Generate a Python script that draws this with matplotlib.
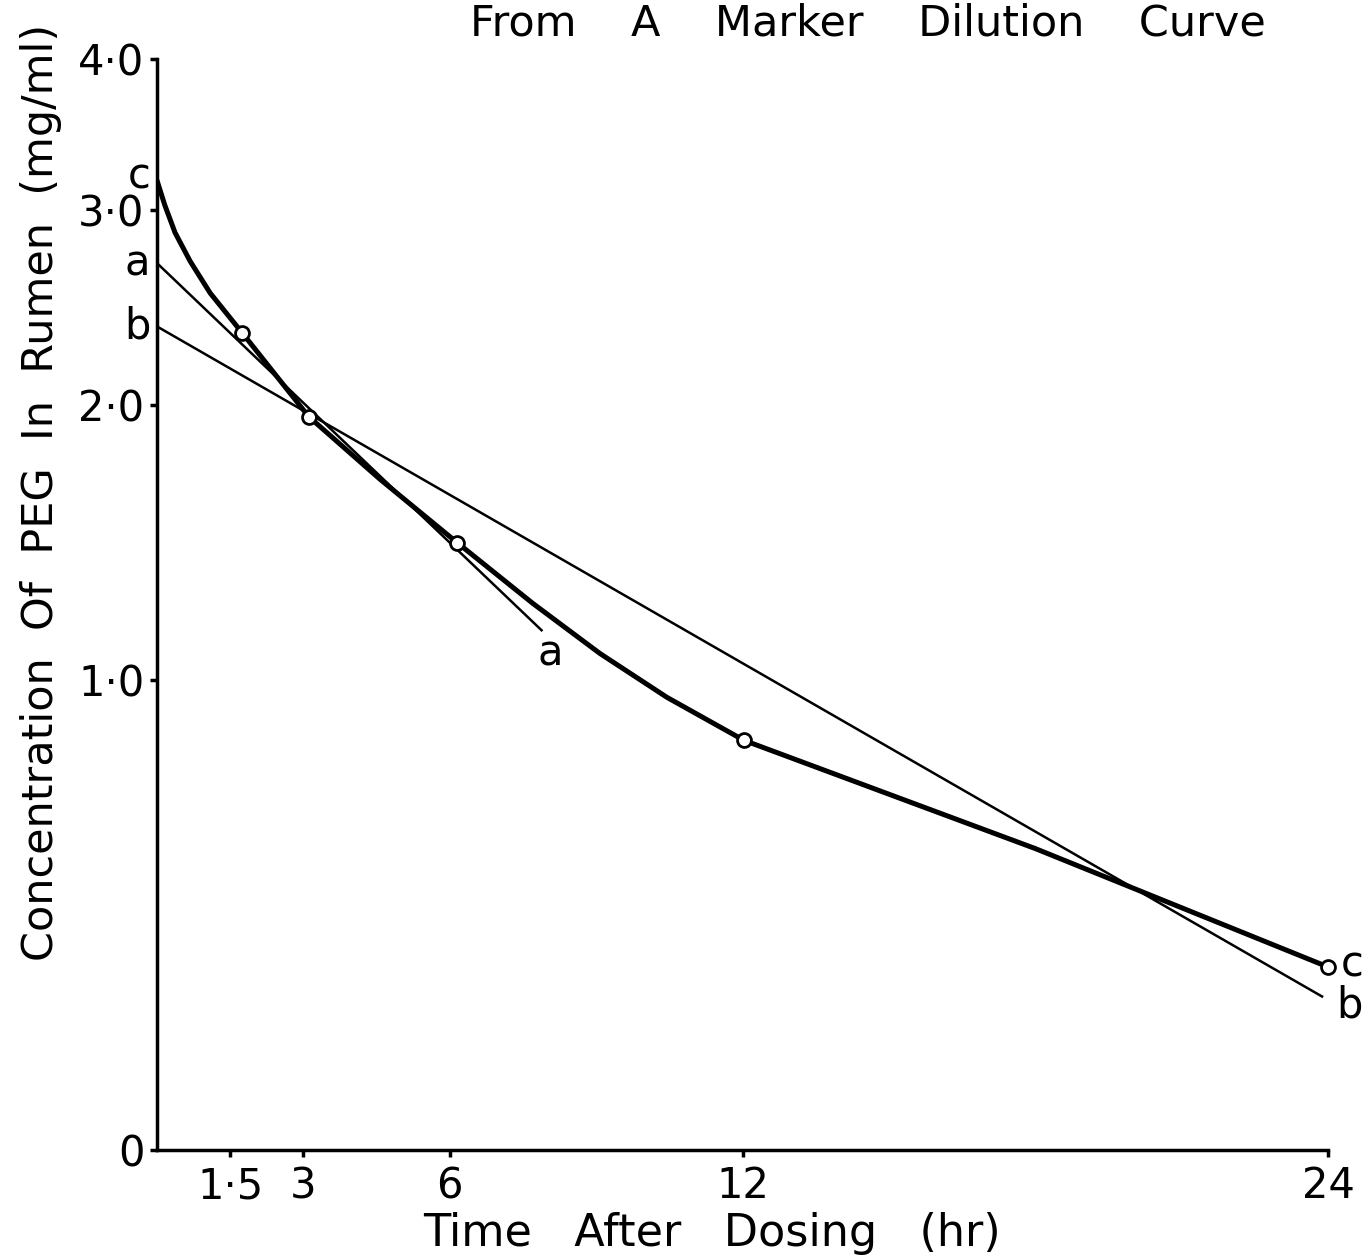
import numpy as np
import matplotlib
matplotlib.use("Agg")
import matplotlib.pyplot as plt

# curve c (smooth freehand curve through the observations)
c_time = [0.0, 0.16, 0.37, 0.68, 1.09, 1.74, 3.11, 4.57, 6.15, 7.7, 9.08, 10.45, 12.03, 18.0, 24.0]
c_conc = [3.18, 3.03, 2.87, 2.71, 2.54, 2.34, 1.95, 1.69, 1.45, 1.24, 1.08, 0.95, 0.83, 0.56, 0.31]

# observed points (open circles)
obs_time = [1.74, 3.11, 6.15, 12.03, 24.0]
obs_conc = [2.34, 1.95, 1.45, 0.83, 0.31]

# fitted straight lines a and b
a_time = [0.0, 7.9]
a_conc = [2.70, 1.15]
b_time = [0.0, 23.9]
b_conc = [2.37, 0.253]

x_ticks = [1.5, 3, 6, 12, 24]
x_ticklabels = ["1·5", "3", "6", "12", "24"]
y_ticks = [0, 1, 2, 3, 4]
y_ticklabels = ["0", "1·0", "2·0", "3·0", "4·0"]

plt.rcParams["font.family"] = "DejaVu Sans"

fig = plt.figure(figsize=(13.63, 12.57), dpi=100)
W, H = 1363, 1257
ax = fig.add_axes([157 / W, (H - 1150) / H, (1328 - 157) / W, 1091 / H])

# vertical scale of the original is log(1 + y)
ax.set_yscale("function", functions=(np.log1p, np.expm1))
ax.set_xlim(0, 24)
ax.set_ylim(0, 4)

ax.plot(b_time, b_conc, color="black", lw=1.8, solid_capstyle="butt", zorder=2)
ax.plot(a_time, a_conc, color="black", lw=1.8, solid_capstyle="butt", zorder=2)
ax.plot(c_time, c_conc, color="black", lw=3.6, solid_capstyle="round",
        solid_joinstyle="round", zorder=3)
ax.plot(obs_time, obs_conc, "o", ms=10, mfc="white", mec="black", mew=2, zorder=4, clip_on=False)

# line labels
lab = dict(fontsize=30, color="black", annotation_clip=False, textcoords="offset pixels")
ax.annotate("c", xy=(0, c_conc[0]), xytext=(-18, 4), ha="center", va="center", **lab)
ax.annotate("a", xy=(0, a_conc[0]), xytext=(-20, 0), ha="center", va="center", **lab)
ax.annotate("b", xy=(0, b_conc[0]), xytext=(-20, 0), ha="center", va="center", **lab)
ax.annotate("a", xy=(a_time[-1], a_conc[-1]), xytext=(8, -22), ha="center", va="center", **lab)
ax.annotate("c", xy=(obs_time[-1], obs_conc[-1]), xytext=(24, 2), ha="center", va="center", **lab)
ax.annotate("b", xy=(b_time[-1], b_conc[-1]), xytext=(26, -8), ha="center", va="center", **lab)

ax.set_xticks(x_ticks)
ax.set_xticklabels(x_ticklabels)
ax.set_yticks(y_ticks)
ax.set_yticklabels(y_ticklabels)
ax.minorticks_off()
ax.tick_params(axis="both", labelsize=30, length=5, width=2.5, direction="out")
ax.tick_params(axis="x", pad=6)
ax.tick_params(axis="y", pad=4)

for s in ["top", "right"]:
    ax.spines[s].set_visible(False)
for s in ["left", "bottom"]:
    ax.spines[s].set_linewidth(2.5)

ax.set_xlabel("Time   After   Dosing   (hr)", fontsize=32)
ax.xaxis.set_label_coords(0.474, -0.057)
ax.set_ylabel("Concentration  Of  PEG  In  Rumen  (mg/ml)", fontsize=31)
ax.yaxis.set_label_coords(-0.081, 0.603)

fig.text(868 / W, 1 - 35 / H, "From    A    Marker    Dilution    Curve",
         fontsize=31, ha="center", va="baseline")

fig.savefig("out.png", dpi=100, facecolor="white")
